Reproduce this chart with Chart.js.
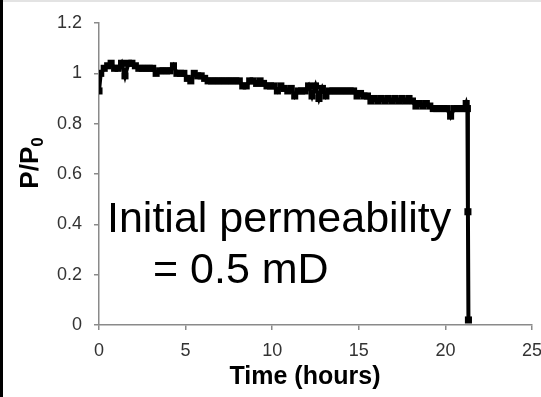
<!DOCTYPE html>
<html>
<head>
<meta charset="utf-8">
<script src="https://cdn.jsdelivr.net/npm/chart.js@4"></script>
<style>
html,body{margin:0;padding:0;background:#fff;overflow:hidden;}
#c{display:block;}
</style>
</head>
<body>
<canvas id="c" width="541" height="397"></canvas>
<script>
// Time (hours)
const times = [0, 0.1, 0.3, 0.5, 0.7, 0.9, 1.1, 1.3, 1.5, 1.7, 1.9, 2.1, 2.3, 2.5, 2.7, 2.9, 3.1, 3.3, 3.5, 3.7, 3.9,
  4.1, 4.3, 4.5, 4.7, 4.9, 5.1, 5.3, 5.5, 5.7, 5.9, 6.1, 6.3, 6.5, 6.7, 6.9, 7.1, 7.3, 7.5, 7.7, 7.9,
  8.1, 8.3, 8.5, 8.7, 8.9, 9.1, 9.3, 9.5, 9.7, 9.9, 10.1, 10.3, 10.5, 10.7, 10.9, 11.1, 11.3, 11.5, 11.7, 11.9,
  12.1, 12.3, 12.5, 12.7, 12.9, 13.1, 13.3, 13.5, 13.7, 13.9, 14.1, 14.3, 14.5, 14.7, 14.9, 15.1, 15.3, 15.5, 15.7, 15.9,
  16.1, 16.3, 16.5, 16.7, 16.9, 17.1, 17.3, 17.5, 17.7, 17.9, 18.1, 18.3, 18.5, 18.7, 18.9, 19.1, 19.3, 19.5, 19.7, 19.9,
  20.1, 20.3, 20.5, 20.7, 20.9, 21.1, 21.2, 21.27, 21.3, 21.33];
// P/P0
const ratio = [0.93, 1.00, 1.02, 1.03, 1.04, 1.02, 1.02, 1.04, 0.99, 1.04, 1.04, 1.03, 1.02, 1.02, 1.02, 1.02, 1.02, 1.00, 1.01, 1.01, 1.01,
  1.01, 1.03, 1.00, 1.00, 1.00, 0.98, 0.97, 1.00, 0.99, 0.99, 0.98, 0.97, 0.97, 0.97, 0.97, 0.97, 0.97, 0.97, 0.97, 0.97,
  0.97, 0.95, 0.95, 0.97, 0.97, 0.96, 0.97, 0.96, 0.95, 0.95, 0.95, 0.93, 0.95, 0.94, 0.93, 0.94, 0.91, 0.93, 0.93, 0.93,
  0.95, 0.91, 0.95, 0.90, 0.94, 0.91, 0.93, 0.93, 0.93, 0.93, 0.93, 0.93, 0.93, 0.93, 0.91, 0.92, 0.91, 0.91, 0.89, 0.90,
  0.89, 0.90, 0.89, 0.90, 0.89, 0.90, 0.89, 0.90, 0.89, 0.90, 0.89, 0.87, 0.88, 0.87, 0.88, 0.87, 0.86, 0.86, 0.86, 0.86,
  0.86, 0.83, 0.86, 0.86, 0.86, 0.86, 0.88, 0.86, 0.45, 0.02];
const xTicks = [0, 5, 10, 15, 20, 25];
const yTicks = [0, 0.2, 0.4, 0.6, 0.8, 1, 1.2];
const xTitle = 'Time (hours)';
const yTitleMain = 'P/P';
const yTitleSub = '0';
const noteLines = ['Initial permeability', '= 0.5 mD'];

const FONT = '"Liberation Sans", Arial, sans-serif';

const framePlugin = {
  id: 'frame',
  beforeDraw(chart) {
    const ctx = chart.ctx;
    ctx.save();
    ctx.fillStyle = '#fff';
    ctx.fillRect(0, 0, chart.width, chart.height);
    ctx.restore();
  },
  afterDraw(chart) {
    const ctx = chart.ctx;
    ctx.save();
    // borders of the picture
    ctx.fillStyle = '#e3e3e3';
    ctx.fillRect(0, 0, chart.width, 2);
    ctx.fillStyle = '#000';
    ctx.fillRect(0, 0, 3, chart.height);
    // x title
    ctx.fillStyle = '#000';
    ctx.font = 'bold 25px ' + FONT;
    ctx.textAlign = 'center';
    ctx.textBaseline = 'alphabetic';
    ctx.fillText(xTitle, 305, 384);
    // y title with subscript
    ctx.translate(38, 163);
    ctx.rotate(-Math.PI / 2);
    ctx.font = 'bold 26px ' + FONT;
    const w1 = ctx.measureText(yTitleMain).width;
    ctx.font = 'bold 17px ' + FONT;
    const w2 = ctx.measureText(yTitleSub).width;
    const start = -(w1 + w2) / 2;
    ctx.textAlign = 'left';
    ctx.font = 'bold 26px ' + FONT;
    ctx.fillText(yTitleMain, start, 0);
    ctx.font = 'bold 17px ' + FONT;
    ctx.fillText(yTitleSub, start + w1, 5);
    ctx.restore();
    // annotation
    ctx.save();
    ctx.fillStyle = '#000';
    ctx.font = '43px ' + FONT;
    ctx.textAlign = 'left';
    ctx.textBaseline = 'alphabetic';
    ctx.fillText(noteLines[0], 107, 232);
    ctx.fillText(noteLines[1], 153, 283);
    ctx.restore();
  }
};

const chart = new Chart(document.getElementById('c'), {
  type: 'line',
  data: {
    datasets: [{
      data: times.map((t, i) => ({x: t, y: ratio[i]})),
      borderColor: '#000',
      backgroundColor: '#000',
      borderWidth: 4,
      pointStyle: 'rect',
      pointRadius: 5,
      pointBorderWidth: 0,
      tension: 0
    }]
  },
  options: {
    responsive: false,
    animation: false,
    events: [],
    layout: {padding: {top: 23, right: 9, left: 0, bottom: 0}},
    plugins: {legend: {display: false}, tooltip: {enabled: false}},
    scales: {
      x: {
        type: 'linear',
        min: 0, max: 25,
        afterBuildTicks(s) { s.ticks = xTicks.map(v => ({value: v})); },
        afterFit(s) { s.height = 72; s.paddingLeft = 0; s.paddingRight = 0; },
        border: {display: true, color: '#8a8a8a', width: 1.5},
        grid: {display: true, drawOnChartArea: false, drawTicks: true, tickLength: 5, color: '#8a8a8a', lineWidth: 1.5},
        ticks: {color: '#333', font: {family: FONT, size: 18}, padding: 10, maxRotation: 0, autoSkip: false}
      },
      y: {
        min: 0, max: 1.2,
        afterBuildTicks(s) { s.ticks = yTicks.map(v => ({value: v})); },
        afterFit(s) { s.width = 99; s.paddingTop = 0; s.paddingBottom = 0; },
        border: {display: true, color: '#8a8a8a', width: 1.5},
        grid: {display: true, drawOnChartArea: false, drawTicks: true, tickLength: 5, color: '#8a8a8a', lineWidth: 1.5},
        ticks: {color: '#333', font: {family: FONT, size: 18}, padding: 12, callback: v => String(v)}
      }
    }
  },
  plugins: [framePlugin]
});
</script>
</body>
</html>
